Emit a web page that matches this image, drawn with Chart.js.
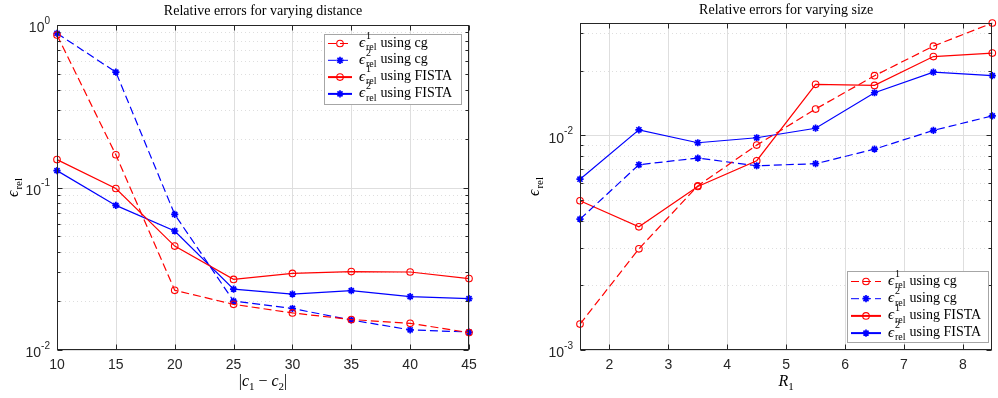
<!DOCTYPE html>
<html>
<head>
<meta charset="utf-8">
<title>Relative errors</title>
<script src="https://cdn.jsdelivr.net/npm/chart.js@4.4.0/dist/chart.umd.min.js"></script>
<style>
  html, body { margin: 0; padding: 0; background: #fff; }
  #wrap { position: relative; width: 998px; height: 398px; }
  .panel { position: absolute; top: 0; width: 499px; height: 398px; }
  #left { left: 0; }
  #right { left: 499px; }
</style>
</head>
<body>
<div id="wrap">
  <div class="panel" id="left"><canvas id="dist-chart"></canvas></div>
  <div class="panel" id="right"><canvas id="size-chart"></canvas></div>
</div>
<script>
// --- DATA ---
// left panel: errors against centre distance |c1 - c2|
const distances = [10, 15, 20, 25, 30, 35, 40, 45];
const distErr1Cg = [0.868, 0.159, 0.0233, 0.0191, 0.0169, 0.0154, 0.0146, 0.0128];
const distErr2Cg = [0.889, 0.513, 0.0683, 0.0200, 0.0180, 0.0153, 0.0133, 0.0129];
const distErr1Fista = [0.1485, 0.0986, 0.0436, 0.0272, 0.0296, 0.0304, 0.0302, 0.0275];
const distErr2Fista = [0.127, 0.0776, 0.054, 0.0237, 0.0221, 0.0232, 0.0213, 0.0207];
const distXTicks = [10, 15, 20, 25, 30, 35, 40, 45];
const distYDecades = [-2, -1, 0];

// right panel: errors against radius R1
const radii = [1.5, 2.5, 3.5, 4.5, 5.5, 6.5, 7.5, 8.5];
const sizeErr1Cg = [0.00132, 0.00296, 0.00582, 0.00901, 0.01327, 0.01897, 0.02606, 0.0334];
const sizeErr2Cg = [0.00407, 0.0073, 0.00784, 0.00722, 0.00738, 0.00863, 0.01055, 0.01233];
const sizeErr1Fista = [0.00496, 0.00375, 0.00578, 0.00762, 0.0173, 0.0171, 0.0233, 0.0242];
const sizeErr2Fista = [0.00625, 0.01062, 0.00924, 0.00975, 0.0108, 0.0158, 0.0197, 0.019];
const sizeXTicks = [2, 3, 4, 5, 6, 7, 8];
const sizeYDecades = [-3, -2];

const legendSup = ["1", "2", "1", "2"];
const legendMethod = ["cg", "cg", "FISTA", "FISTA"];

// --- STYLE ---
const AXIS_COLOR = "#262626";
const GRID_COLOR = "#dedede";
const RED = "#ff0000";
const BLUE = "#0000ff";
const EPS = "\u03F5";
const SANS = '"Liberation Sans", Arial, sans-serif';
const SERIF = '"Liberation Serif", "DejaVu Serif", "Times New Roman", serif';

function series(xs, ys) {
  return xs.map((x, i) => ({ x: x, y: ys[i] }));
}

function makeDatasets(xs, e1cg, e2cg, e1f, e2f) {
  const base = { borderWidth: 1.2, clip: false, tension: 0, fill: false };
  const circle = { pointStyle: "circle", pointRadius: 3.3, pointBorderWidth: 1.1, pointBackgroundColor: "rgba(0,0,0,0)" };
  const star = { pointStyle: "star", pointRadius: 3.6, pointBorderWidth: 1.7, pointBackgroundColor: BLUE };
  return [
    { ...base, ...circle, data: series(xs, e1cg), borderColor: RED, pointBorderColor: RED, borderDash: [8, 4], legendLine: 1 },
    { ...base, ...star, data: series(xs, e2cg), borderColor: BLUE, pointBorderColor: BLUE, borderDash: [8, 4], legendLine: 1 },
    { ...base, ...circle, data: series(xs, e1f), borderColor: RED, pointBorderColor: RED, legendLine: 2 },
    { ...base, ...star, data: series(xs, e2f), borderColor: BLUE, pointBorderColor: BLUE, legendLine: 2 },
  ];
}

// minor log grid values between the axis limits
function minorValues(min, max) {
  const out = [];
  for (let e = Math.floor(Math.log10(min)); e <= Math.ceil(Math.log10(max)); e++) {
    for (let m = 2; m <= 9; m++) {
      const v = m * Math.pow(10, e);
      if (v > min * 1.0001 && v < max * 0.9999) out.push(v);
    }
  }
  return out;
}

function hLine(ctx, x1, x2, y) {
  ctx.beginPath();
  ctx.moveTo(x1, y);
  ctx.lineTo(x2, y);
  ctx.stroke();
}

function vLine(ctx, x, y1, y2) {
  ctx.beginPath();
  ctx.moveTo(x, y1);
  ctx.lineTo(x, y2);
  ctx.stroke();
}

// epsilon with optional superscript and "rel" subscript, returns drawn width
function drawEps(ctx, x, y, sup, size) {
  ctx.textAlign = "left";
  ctx.textBaseline = "middle";
  ctx.font = `italic ${size}px ${SERIF}`;
  ctx.fillText(EPS, x, y);
  const w = ctx.measureText(EPS).width + 1;
  const small = Math.round(size * 0.68);
  ctx.font = `${small}px ${SERIF}`;
  if (sup) ctx.fillText(sup, x + w, y - size * 0.45);
  ctx.fillText("rel", x + w, y + size * 0.32);
  return w + ctx.measureText("rel").width;
}

function epsWidth(ctx, size) {
  ctx.font = `italic ${size}px ${SERIF}`;
  const w = ctx.measureText(EPS).width + 1;
  ctx.font = `${Math.round(size * 0.68)}px ${SERIF}`;
  return w + ctx.measureText("rel").width;
}

// draws a run of [text, style] pieces; style: "i" italic, "s" subscript
function drawRuns(ctx, runs, cx, y, size) {
  const fontFor = (st) => st === "s" ? `${Math.round(size * 0.7)}px ${SERIF}` :
    st === "i" ? `italic ${size}px ${SERIF}` : `${size}px ${SERIF}`;
  let total = 0;
  runs.forEach(([t, st]) => { ctx.font = fontFor(st); total += ctx.measureText(t).width; });
  let x = cx - total / 2;
  ctx.textAlign = "left";
  ctx.textBaseline = "middle";
  runs.forEach(([t, st]) => {
    ctx.font = fontFor(st);
    ctx.fillText(t, x, st === "s" ? y + size * 0.3 : y);
    x += ctx.measureText(t).width;
  });
}

function axesPlugin(cfg) {
  return {
    id: "matlabAxes",
    beforeDatasetsDraw(chart) {
      const { ctx, chartArea: a, scales: { x, y } } = chart;
      ctx.save();
      ctx.lineWidth = 1;
      ctx.strokeStyle = GRID_COLOR;
      ctx.setLineDash([1, 3]);
      minorValues(y.min, y.max).forEach((v) => {
        hLine(ctx, a.left, a.right, Math.round(y.getPixelForValue(v)) + 0.5);
      });
      ctx.setLineDash([]);
      cfg.xTicks.forEach((v) => vLine(ctx, Math.round(x.getPixelForValue(v)) + 0.5, a.top, a.bottom));
      cfg.yDecades.forEach((d) => hLine(ctx, a.left, a.right, Math.round(y.getPixelForValue(Math.pow(10, d))) + 0.5));
      ctx.restore();
    },
    afterDatasetsDraw(chart) {
      const { ctx, chartArea: a, scales: { x, y } } = chart;
      ctx.save();
      ctx.strokeStyle = AXIS_COLOR;
      ctx.fillStyle = AXIS_COLOR;
      ctx.lineWidth = 1;
      const L = Math.round(a.left) + 0.5, R = Math.round(a.right) - 0.5;
      const T = Math.round(a.top) + 0.5, B = Math.round(a.bottom) - 0.5;

      // tick marks pointing inwards on all four sides
      cfg.xTicks.forEach((v) => {
        const px = Math.round(x.getPixelForValue(v)) + 0.5;
        vLine(ctx, px, B, B - 5);
        vLine(ctx, px, T, T + 5);
      });
      cfg.yDecades.forEach((d) => {
        const py = Math.round(y.getPixelForValue(Math.pow(10, d))) + 0.5;
        hLine(ctx, L, L + 5, py);
        hLine(ctx, R, R - 5, py);
      });
      minorValues(y.min, y.max).forEach((v) => {
        const py = Math.round(y.getPixelForValue(v)) + 0.5;
        hLine(ctx, L, L + 3, py);
        hLine(ctx, R, R - 3, py);
      });
      ctx.strokeRect(L, T, R - L, B - T);

      // tick labels
      ctx.font = `14px ${SANS}`;
      ctx.textAlign = "center";
      ctx.textBaseline = "middle";
      cfg.xTicks.forEach((v) => ctx.fillText(String(v), x.getPixelForValue(v), a.bottom + 15));
      cfg.yDecades.forEach((d) => {
        const py = y.getPixelForValue(Math.pow(10, d));
        const exp = String(d);
        ctx.font = `10px ${SANS}`;
        const we = ctx.measureText(exp).width;
        ctx.font = `14px ${SANS}`;
        const wb = ctx.measureText("10").width;
        const right = a.left - 7;
        ctx.textAlign = "left";
        ctx.fillText("10", right - we - wb, py + 3.5);
        ctx.font = `10px ${SANS}`;
        ctx.fillText(exp, right - we, py - 4);
      });

      // title and axis labels
      ctx.font = `14px ${SERIF}`;
      ctx.textAlign = "center";
      ctx.textBaseline = "middle";
      ctx.fillStyle = "#000";
      ctx.fillText(cfg.title, (a.left + a.right) / 2, cfg.titleY);
      drawRuns(ctx, cfg.xLabel, (a.left + a.right) / 2, a.bottom + 32, 16);

      ctx.save();
      ctx.translate(cfg.yLabelX, (a.top + a.bottom) / 2);
      ctx.rotate(-Math.PI / 2);
      drawEps(ctx, -epsWidth(ctx, 16) / 2, 0, null, 16);
      ctx.restore();

      // legend box
      const lg = cfg.legend;
      ctx.fillStyle = "#fff";
      ctx.fillRect(lg.x, lg.y, lg.w, lg.h);
      ctx.strokeStyle = "#a6a6a6";
      ctx.strokeRect(lg.x + 0.5, lg.y + 0.5, lg.w, lg.h);
      chart.data.datasets.forEach((ds, i) => {
        const ry = lg.y + lg.firstRow + i * lg.rowH;
        const x0 = lg.x + 4, x1 = x0 + lg.lineLen;
        ctx.strokeStyle = ds.borderColor;
        ctx.lineWidth = ds.legendLine;
        ctx.setLineDash(ds.borderDash || []);
        hLine(ctx, x0, x1, ry + 0.5);
        ctx.setLineDash([]);
        ctx.lineWidth = ds.pointBorderWidth;
        ctx.fillStyle = ds.pointBackgroundColor;
        Chart.helpers.drawPoint(ctx, {
          pointStyle: ds.pointStyle, radius: ds.pointRadius, borderWidth: ds.pointBorderWidth, rotation: 0,
        }, (x0 + x1) / 2, ry + 0.5);
        ctx.fillStyle = "#000";
        const w = drawEps(ctx, x1 + 7, ry, legendSup[i], 15);
        ctx.font = `14px ${SERIF}`;
        ctx.fillText("using " + legendMethod[i], x1 + 7 + w + 4, ry);
      });
      ctx.restore();
    },
  };
}

function buildChart(canvasId, datasets, xMin, xMax, yMin, yMax, padding, cfg) {
  return new Chart(document.getElementById(canvasId), {
    type: "line",
    data: { datasets: datasets },
    options: {
      responsive: true,
      maintainAspectRatio: false,
      animation: false,
      devicePixelRatio: 1,
      layout: { padding: padding },
      scales: {
        x: { type: "linear", min: xMin, max: xMax, display: false },
        y: { type: "logarithmic", min: yMin, max: yMax, display: false },
      },
      plugins: { legend: { display: false }, tooltip: { enabled: false } },
    },
    plugins: [axesPlugin(cfg)],
  });
}

buildChart(
  "dist-chart",
  makeDatasets(distances, distErr1Cg, distErr2Cg, distErr1Fista, distErr2Fista),
  10, 45, 0.01, 1,
  { left: 57, top: 25, right: 30, bottom: 48 },
  {
    title: "Relative errors for varying distance",
    titleY: 11,
    xTicks: distXTicks,
    yDecades: distYDecades,
    xLabel: [["|", ""], ["c", "i"], ["1", "s"], [" \u2212 ", ""], ["c", "i"], ["2", "s"], ["|", ""]],
    yLabelX: 14,
    legend: { x: 324, y: 34, w: 137, h: 70, firstRow: 9, rowH: 16.8, lineLen: 24 },
  }
);

buildChart(
  "size-chart",
  makeDatasets(radii, sizeErr1Cg, sizeErr2Cg, sizeErr1Fista, sizeErr2Fista),
  1.5, 8.5, 0.001, 0.0334,
  { left: 81, top: 23, right: 2, bottom: 48 },
  {
    title: "Relative errors for varying size",
    titleY: 10,
    xTicks: sizeXTicks,
    yDecades: sizeYDecades,
    xLabel: [["R", "i"], ["1", "s"]],
    yLabelX: 36,
    legend: { x: 348, y: 271, w: 141, h: 71, firstRow: 10, rowH: 17.2, lineLen: 30 },
  }
);
</script>
</body>
</html>
